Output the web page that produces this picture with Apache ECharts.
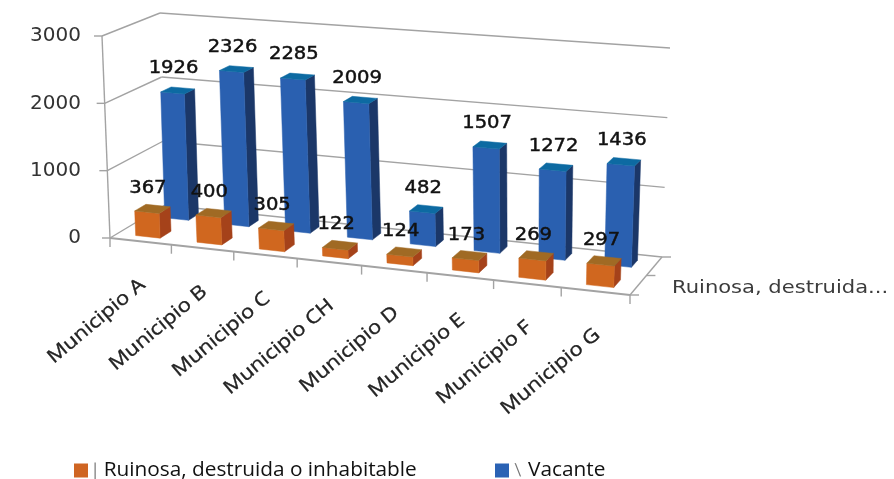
<!DOCTYPE html>
<html>
<head>
<meta charset="utf-8">
<style>html,body{margin:0;padding:0;background:#fff}#chart{width:894px;height:479px}</style>
<script src="https://cdn.jsdelivr.net/npm/echarts@6/dist/echarts.min.js"></script>
</head>
<body>
<div id="chart"></div>
<script>
// Viviendas por municipio: bars drawn in a perspective box
const categories = ['Municipio A', 'Municipio B', 'Municipio C', 'Municipio CH', 'Municipio D', 'Municipio E', 'Municipio F', 'Municipio G'];
const ruinosa = [367, 400, 305, 122, 124, 173, 269, 297];
const vacante = [1926, 2326, 2285, 2009, 482, 1507, 1272, 1436];
const valueTicks = [0, 1000, 2000, 3000];
const nameRuinosa = 'Ruinosa, destruida o inhabitable';
const nameVacante = 'Vacante';
const depthLabel = 'Ruinosa, destruida...';

// Corners of the box on screen, front-left, front-right, back-right, back-left
const floorQuad = [[110, 238], [630, 295], [662, 257], [165, 205]];
const ceilQuad = [[102, 36], [638, 76], [670, 48], [160, 13]];

// Square-to-quad homography
function homography(q) {
  const [[x0, y0], [x1, y1], [x2, y2], [x3, y3]] = q;
  const dx1 = x1 - x2, dx2 = x3 - x2, sx = x0 - x1 + x2 - x3;
  const dy1 = y1 - y2, dy2 = y3 - y2, sy = y0 - y1 + y2 - y3;
  const det = dx1 * dy2 - dx2 * dy1;
  const g = (sx * dy2 - dx2 * sy) / det, h = (dx1 * sy - sx * dy1) / det;
  const a = x1 - x0 + g * x1, b = x3 - x0 + h * x3;
  const d = y1 - y0 + g * y1, e = y3 - y0 + h * y3;
  return (u, v) => {
    const k = g * u + h * v + 1;
    return [(a * u + b * v + x0) / k, (d * u + e * v + y0) / k];
  };
}
const floorAt = homography(floorQuad);
const ceilAt = homography(ceilQuad);

// u along categories, v into the depth, w height, all in 0..1
function project(u, v, w) {
  const f = floorAt(u, v), c = ceilAt(u, v);
  return [f[0] + (c[0] - f[0]) * w, f[1] + (c[1] - f[1]) * w];
}

const LINE = '#a3a3a3';
const DIGITS = '"DejaVu Sans"';

function seg(a, b, width) {
  return { type: 'line', shape: { x1: a[0], y1: a[1], x2: b[0], y2: b[1] }, style: { stroke: LINE, lineWidth: width || 1.4 }, silent: true };
}
function poly(points, fill) {
  return { type: 'polygon', shape: { points }, style: { fill, stroke: fill, lineWidth: 0.5 }, silent: true };
}

function renderFrame(params, api) {
  const cs = params.coordSys;
  const children = [];
  const heightOf = t => (cs.y + cs.height - api.coord([0, t])[1]) / cs.height;
  // Gridlines over the side and back walls, with their ticks
  valueTicks.forEach(t => {
    const w = heightOf(t);
    const fl = project(0, 0, w), bl = project(0, 1, w), br = project(1, 1, w);
    children.push(seg(fl, bl), seg(bl, br), seg(fl, [fl[0] - 8, fl[1]]));
  });
  // Wall edge at the front of the value axis and the floor outline
  children.push(seg(project(0, 0, 0), project(0, 0, 1)));
  children.push(seg(project(0, 0, 0), project(1, 0, 0), 1.8));
  children.push(seg(project(1, 0, 0), project(1, 1, 0)));
  // Category ticks and labels
  const band = api.size([1, 0])[0] / cs.width;
  for (let i = 0; i <= categories.length; i++) {
    const p = project(i * band, 0, 0);
    children.push(seg(p, [p[0], p[1] + 9]));
  }
  categories.forEach((name, i) => {
    const u = (api.coord([i, 0])[0] - cs.x) / cs.width;
    const p = project(u, 0, 0);
    children.push({
      type: 'text', x: p[0] + 2, y: p[1] + 41, rotation: 40 * Math.PI / 180, scaleX: 1.16,
      style: { text: name, align: 'right', verticalAlign: 'middle', fill: '#222', stroke: '#222', lineWidth: 0.35, font: '19px "Open Sans"' },
      silent: true
    });
  });
  // Depth axis ticks and its single label
  [0, 0.5, 1].forEach(v => {
    const p = project(1, v, 0);
    children.push(seg(p, [p[0] + 9, p[1]]));
  });
  const d = project(1, 0.24, 0);
  children.push({
    type: 'text', x: d[0] + 34, y: d[1] + 3, scaleX: 1.17,
    style: { text: depthLabel, align: 'left', verticalAlign: 'middle', fill: '#3c3c3c', font: '18px ' + DIGITS },
    silent: true
  });
  return { type: 'group', children };
}

function barRenderer(v0, v1, front, side, top) {
  return function (params, api) {
    const cs = params.coordSys;
    const value = api.value(1);
    const pt = api.coord([api.value(0), value]);
    const band = api.size([1, 0])[0] / cs.width;
    const uc = (pt[0] - cs.x) / cs.width;
    const w = (cs.y + cs.height - pt[1]) / cs.height;
    const u0 = uc - band * 0.2, u1 = uc + band * 0.2;
    const anchor = project(uc, v0, w);
    return {
      type: 'group',
      children: [
        poly([project(u1, v0, 0), project(u1, v1, 0), project(u1, v1, w), project(u1, v0, w)], side),
        poly([project(u0, v0, 0), project(u1, v0, 0), project(u1, v0, w), project(u0, v0, w)], front),
        poly([project(u0, v0, w), project(u1, v0, w), project(u1, v1, w), project(u0, v1, w)], top),
        {
          type: 'text', x: anchor[0] + 1, y: anchor[1] - 24, scaleX: 1.15, z2: 10,
          style: { text: String(value), align: 'center', verticalAlign: 'middle', fill: '#111', stroke: '#111', lineWidth: 0.45, font: '17px ' + DIGITS },
          silent: true
        }
      ]
    };
  };
}

const rows = list => list.map((v, i) => [i, v]);

const legendBase = {
  orient: 'horizontal', icon: 'rect', itemWidth: 14, itemHeight: 14, itemGap: 0, top: 460, padding: 0,
  selectedMode: false
};
const legendText = mark => ({
  formatter: name => '{m|' + mark + '} ' + name,
  textStyle: {
    fontFamily: 'Open Sans', fontSize: 20.8, color: '#111',
    rich: { m: { fontFamily: 'Lato', fontSize: 17, color: '#777', padding: [0, 1, 0, 0] } }
  }
});

const chart = echarts.init(document.getElementById('chart'));
chart.setOption({
  backgroundColor: '#ffffff',
  animation: false,
  legend: [
    Object.assign({}, legendBase, legendText('|'), { left: 74, data: [nameRuinosa] }),
    Object.assign({}, legendBase, legendText('\\'), { left: 495, data: [nameVacante] })
  ],
  grid: { left: 109, top: 36, width: 520, height: 202 },
  xAxis: { type: 'category', data: categories, show: false },
  yAxis: {
    type: 'value', min: 0, max: 3000, interval: 1000,
    axisLine: { show: false }, axisTick: { show: false }, splitLine: { show: false },
    axisLabel: { margin: 28, color: '#333', fontFamily: 'DejaVu Sans', fontSize: 20, padding: [6, 0, 0, 0], formatter: v => String(v) }
  },
  series: [
    { type: 'custom', data: [[0, 0]], encode: { x: 0, y: 1 }, renderItem: renderFrame, silent: true, z: 1 },
    {
      type: 'custom', name: nameVacante, data: rows(vacante), encode: { x: 0, y: 1 }, z: 2,
      itemStyle: { color: '#2a62b4' },
      renderItem: barRenderer(0.66, 0.85, '#2a60b0', '#1b3768', '#0d6aa2')
    },
    {
      type: 'custom', name: nameRuinosa, data: rows(ruinosa), encode: { x: 0, y: 1 }, z: 3,
      itemStyle: { color: '#cf6522' },
      renderItem: barRenderer(0.13, 0.33, '#d0671f', '#a5421a', '#a06a24')
    }
  ]
});
</script>
</body>
</html>
